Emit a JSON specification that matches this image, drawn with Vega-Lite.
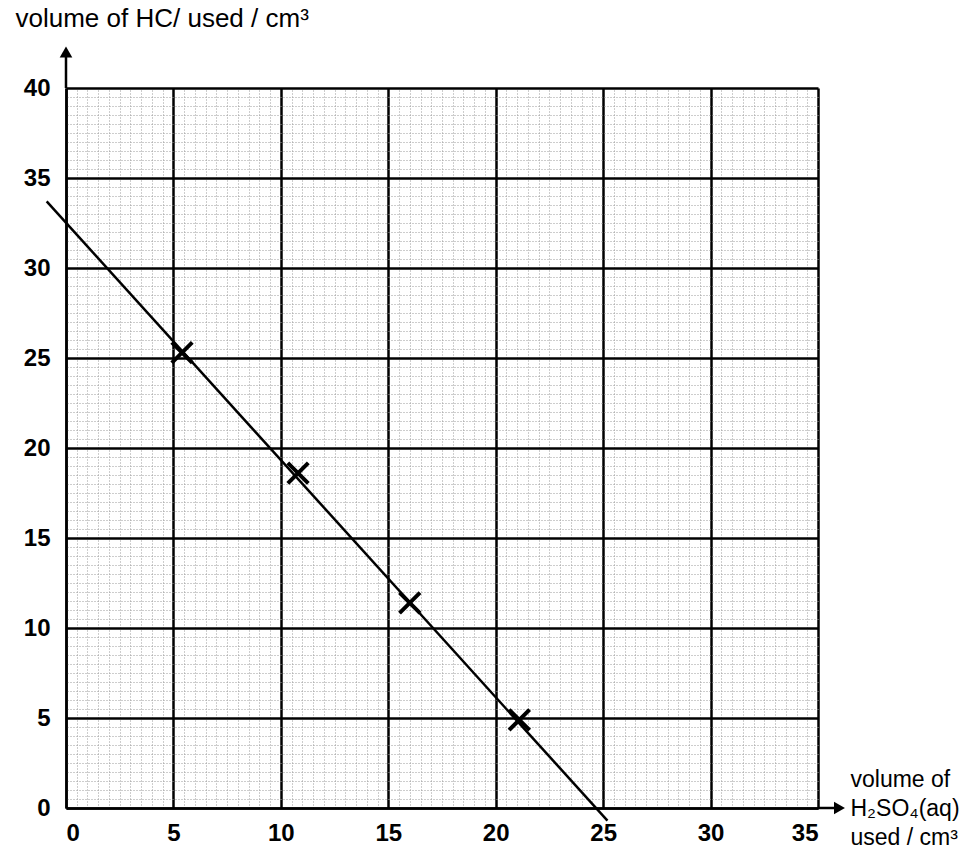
{
  "$schema": "https://vega.github.io/schema/vega-lite/v6.json",
  "autosize": {"type": "none"},
  "padding": {"left": 66, "top": 88, "right": 152, "bottom": 42},
  "width": 752,
  "height": 720,
  "background": "white",
  "config": {"view": {"stroke": null}},
  "datasets": {
    "points": [
      {"h2so4": 5.4, "hcl": 25.3},
      {"h2so4": 10.8, "hcl": 18.6},
      {"h2so4": 16.0, "hcl": 11.4},
      {"h2so4": 21.1, "hcl": 4.9}
    ],
    "fit": [
      {"h2so4": -0.9, "hcl": 33.7},
      {"h2so4": 25.2, "hcl": -0.7}
    ],
    "yarrow": [{"x": 0, "y": 40, "y2": 41.8, "tip": 42.0}],
    "xarrow": [{"x": 35, "x2": 35.8, "y": 0, "tip": 36.0}]
  },
  "resolve": {"axis": {"x": "independent", "y": "independent"}},
  "layer": [
    {
      "data": {"name": "points"},
      "mark": {"type": "point", "opacity": 0},
      "encoding": {
        "x": {"field": "h2so4", "type": "quantitative", "scale": {"domain": [0, 35], "nice": false, "zero": false},
          "axis": {"orient": "top", "values": [0.5,1,1.5,2,2.5,3,3.5,4,4.5,5.5,6,6.5,7,7.5,8,8.5,9,9.5,10.5,11,11.5,12,12.5,13,13.5,14,14.5,15.5,16,16.5,17,17.5,18,18.5,19,19.5,20.5,21,21.5,22,22.5,23,23.5,24,24.5,25.5,26,26.5,27,27.5,28,28.5,29,29.5,30.5,31,31.5,32,32.5,33,33.5,34,34.5],
            "grid": true, "gridColor": "#9a9a9a", "gridDash": [1, 2], "gridWidth": 1, "labels": false, "ticks": false, "domain": false, "title": null}},
        "y": {"field": "hcl", "type": "quantitative", "scale": {"domain": [0, 40], "nice": false, "zero": false},
          "axis": {"orient": "right", "values": [0.5,1,1.5,2,2.5,3,3.5,4,4.5,5.5,6,6.5,7,7.5,8,8.5,9,9.5,10.5,11,11.5,12,12.5,13,13.5,14,14.5,15.5,16,16.5,17,17.5,18,18.5,19,19.5,20.5,21,21.5,22,22.5,23,23.5,24,24.5,25.5,26,26.5,27,27.5,28,28.5,29,29.5,30.5,31,31.5,32,32.5,33,33.5,34,34.5,35.5,36,36.5,37,37.5,38,38.5,39,39.5],
            "grid": true, "gridColor": "#9a9a9a", "gridDash": [1, 2], "gridWidth": 1, "labels": false, "ticks": false, "domain": false, "title": null}}
      }
    },
    {
      "data": {"name": "fit"},
      "mark": {"type": "line", "color": "black", "strokeWidth": 2.5, "clip": false},
      "encoding": {
        "x": {"field": "h2so4", "type": "quantitative",
          "axis": {"orient": "bottom", "values": [0, 5, 10, 15, 20, 25, 30, 35], "grid": true, "gridColor": "black", "gridWidth": 2.5, "gridOpacity": 1,
            "domain": true, "domainColor": "black", "domainWidth": 2.5, "ticks": false,
            "labelFont": "Liberation Sans", "labelFontWeight": "bold", "labelFontSize": 24, "labelColor": "black", "labelPadding": 13,
            "title": ["volume of", "H₂SO₄(aq)", "used / cm³"], "titleFont": "Liberation Sans", "titleFontWeight": "normal", "titleFontSize": 23, "titleColor": "black",
            "titleAlign": "left", "titleBaseline": "top", "titleAnchor": null, "titleX": 784, "titleY": -40, "titleLineHeight": 29}},
        "y": {"field": "hcl", "type": "quantitative",
          "axis": {"orient": "left", "values": [0, 5, 10, 15, 20, 25, 30, 35, 40], "grid": true, "gridColor": "black", "gridWidth": 2.5, "gridOpacity": 1,
            "domain": true, "domainColor": "black", "domainWidth": 2.5, "ticks": false,
            "labelFont": "Liberation Sans", "labelFontWeight": "bold", "labelFontSize": 24, "labelColor": "black", "labelPadding": 16,
            "title": "volume of HC/ used / cm³", "titleFont": "Liberation Sans", "titleFontWeight": "normal", "titleFontSize": 26, "titleColor": "black",
            "titleAngle": 0, "titleAlign": "left", "titleBaseline": "alphabetic", "titleAnchor": null, "titleX": -51, "titleY": -62}}
      }
    },
    {
      "data": {"name": "points"},
      "mark": {"type": "point", "shape": "M -1 -1 L 1 1 M 1 -1 L -1 1", "filled": false, "stroke": "black", "strokeWidth": 4, "size": 420, "opacity": 1, "clip": false},
      "encoding": {
        "x": {"field": "h2so4", "type": "quantitative", "axis": null},
        "y": {"field": "hcl", "type": "quantitative", "axis": null}
      }
    },
    {
      "data": {"name": "yarrow"},
      "mark": {"type": "rule", "color": "black", "strokeWidth": 2.5, "clip": false},
      "encoding": {
        "x": {"field": "x", "type": "quantitative", "axis": null},
        "y": {"field": "y", "type": "quantitative", "axis": null},
        "y2": {"field": "y2"}
      }
    },
    {
      "data": {"name": "yarrow"},
      "mark": {"type": "point", "shape": "triangle-up", "filled": true, "color": "black", "size": 160, "opacity": 1, "clip": false},
      "encoding": {
        "x": {"field": "x", "type": "quantitative", "axis": null},
        "y": {"field": "tip", "type": "quantitative", "axis": null}
      }
    },
    {
      "data": {"name": "xarrow"},
      "mark": {"type": "rule", "color": "black", "strokeWidth": 2.5, "clip": false},
      "encoding": {
        "x": {"field": "x", "type": "quantitative", "axis": null},
        "x2": {"field": "x2"},
        "y": {"field": "y", "type": "quantitative", "axis": null}
      }
    },
    {
      "data": {"name": "xarrow"},
      "mark": {"type": "point", "shape": "triangle-right", "filled": true, "color": "black", "size": 160, "opacity": 1, "clip": false},
      "encoding": {
        "x": {"field": "tip", "type": "quantitative", "axis": null},
        "y": {"field": "y", "type": "quantitative", "axis": null}
      }
    }
  ]
}
